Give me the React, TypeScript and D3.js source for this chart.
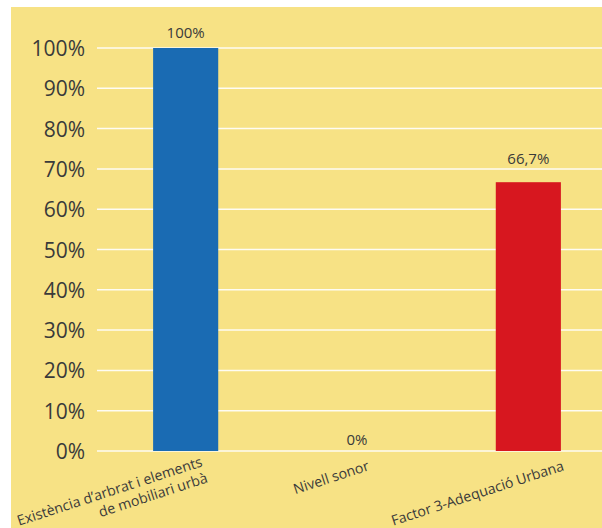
import React from "react";
import * as d3 from "d3";

const categories: string[][] = [
  ["Existència d’arbrat i elements", "de mobiliari urbà"],
  ["Nivell sonor"],
  ["Factor 3-Adequació Urbana"],
];
const values: number[] = [100, 0, 66.7];
const valueLabels: string[] = ["100%", "0%", "66,7%"];
const barColors: string[] = ["#1a6bb3", "#d7171f", "#d7171f"];
const yTicks: number[] = [0, 10, 20, 30, 40, 50, 60, 70, 80, 90, 100];

// layout tweaks (not data)
const labelDx = [17.5, 13, 36.5];
const valueLabelGap = [10, 6, 18];

const W = 602;
const H = 528;
const FONT = "'Open Sans', 'Noto Sans', sans-serif";
const TEXT = "#3a3a3a";

export default function App() {
  const keys = categories.map((c) => c.join(" "));
  const x = d3.scaleBand<string>().domain(keys).range([100, 614]).paddingInner(0.62).paddingOuter(0.31);
  const y = d3.scaleLinear().domain([0, 100]).range([451, 48]);

  return (
    <svg
      width={W}
      height={H}
      style={{ position: "absolute", left: 0, top: 0 }}
      fontFamily={FONT}
    >
      <rect x={0} y={0} width={W} height={H} fill="#ffffff" />
      <rect x={11} y={7} width={W - 11} height={H - 7} fill="#f7e285" />
      {yTicks.map((t) => (
        <g key={t}>
          <line x1={97} x2={W} y1={y(t)} y2={y(t)} stroke="#ffffff" strokeWidth={1.5} opacity={0.9} />
          <text
            x={85}
            y={y(t)}
            textAnchor="end"
            dominantBaseline="central"
            fontSize={21}
            fill={TEXT}
          >
            {`${t}%`}
          </text>
        </g>
      ))}
      {keys.map((k, i) => {
        const v = values[i];
        const bx = x(k)!;
        const bw = x.bandwidth();
        const cx = bx + bw / 2;
        return (
          <g key={k}>
            {v > 0 && (
              <rect x={bx} y={y(v)} width={bw} height={y(0) - y(v)} fill={barColors[i]} />
            )}
            <text x={cx} y={y(v) - valueLabelGap[i]} textAnchor="middle" fontSize={15} fill={TEXT}>
              {valueLabels[i]}
            </text>
            <g transform={`translate(${cx + labelDx[i]},${i === 0 ? 466 : 470}) rotate(-18)`}>
              {categories[i].map((line, j) => (
                <text key={j} x={0} y={j * 17} textAnchor="end" fontSize={14.2} fill={TEXT}>
                  {line}
                </text>
              ))}
            </g>
          </g>
        );
      })}
    </svg>
  );
}
